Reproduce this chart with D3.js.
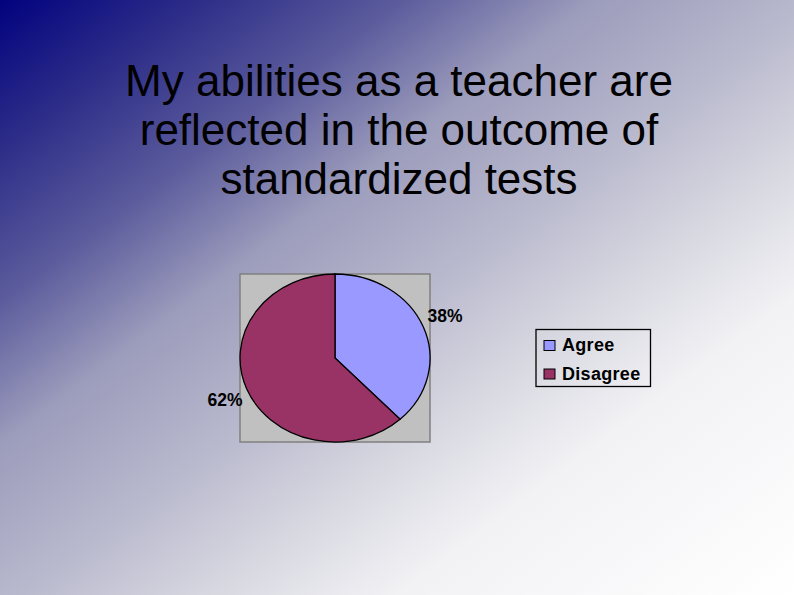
<!DOCTYPE html>
<html>
<head>
<meta charset="utf-8">
<script src="https://cdn.jsdelivr.net/npm/d3@7"></script>
<style>
  html, body { margin: 0; padding: 0; overflow: hidden; }
  svg { display: block; }
</style>
</head>
<body>
<script>
const categories = ["Agree", "Disagree"];
const values = [38, 62];
const labels = ["38%", "62%"];
const colors = ["#9999ff", "#993366"];
const titleLines = ["My abilities as a teacher are", "reflected in the outcome of", "standardized tests"];

const W = 794, H = 595;
const svg = d3.select("body").append("svg").attr("width", W).attr("height", H);

const defs = svg.append("defs");
const grad = defs.append("linearGradient").attr("id", "bg")
  .attr("x1", 0).attr("y1", 0).attr("x2", 1).attr("y2", 1);
[[0, "#02027f"], [0.12, "#2b2b88"], [0.25, "#5a5a9c"], [0.374, "#9c9cbc"],
 [0.5, "#b6b6cc"], [0.626, "#d6d6e0"], [0.75, "#f2f2f5"], [1, "#ffffff"]]
  .forEach(([o, c]) => grad.append("stop").attr("offset", o).attr("stop-color", c));
svg.append("rect").attr("width", W).attr("height", H).attr("fill", "url(#bg)");

// Title
svg.append("g").selectAll("text").data(titleLines).join("text")
  .attr("x", 399).attr("y", (d, i) => 96 + i * 49)
  .attr("text-anchor", "middle")
  .attr("font-family", "Liberation Sans, Arial, sans-serif")
  .attr("font-size", 44).attr("fill", "#000")
  .text(d => d);

// Plot area
const plot = {x: 240, y: 274, w: 190, h: 168};
svg.append("rect").attr("x", plot.x).attr("y", plot.y).attr("width", plot.w).attr("height", plot.h)
  .attr("fill", "#c0c0c0").attr("stroke", "#808080").attr("stroke-width", 1.5);

const cx = plot.x + plot.w / 2, cy = plot.y + plot.h / 2;
const rx = plot.w / 2, ry = plot.h / 2;

const pie = d3.pie().sort(null).value(d => d)(values);
const arc = d3.arc().innerRadius(0).outerRadius(1);
const labelArc = d3.arc().innerRadius(1).outerRadius(1);
const lkx = 1.245, lky = 1.36;

const g = svg.append("g").attr("transform", `translate(${cx},${cy}) scale(${rx},${ry})`);
g.selectAll("path").data(pie).join("path")
  .attr("d", arc)
  .attr("fill", (d, i) => colors[i])
  .attr("stroke", "#000").attr("stroke-width", 1.3)
  .attr("vector-effect", "non-scaling-stroke");

svg.append("g").selectAll("text").data(pie).join("text")
  .attr("x", d => cx + labelArc.centroid(d)[0] * rx * lkx)
  .attr("y", d => cy + labelArc.centroid(d)[1] * ry * lky)
  .attr("dy", "0.36em")
  .attr("text-anchor", "middle")
  .attr("font-family", "Liberation Sans, Arial, sans-serif")
  .attr("font-weight", "bold").attr("font-size", 17.5)
  .text((d, i) => labels[i]);

// Legend
const lg = svg.append("g").attr("transform", "translate(536,329.5)");
lg.append("rect").attr("width", 114.5).attr("height", 57).attr("fill", "none")
  .attr("stroke", "#000").attr("stroke-width", 1.3);
const items = lg.selectAll("g").data(categories).join("g")
  .attr("transform", (d, i) => `translate(8,${11 + i * 28.5})`);
items.append("rect").attr("width", 11).attr("height", 10)
  .attr("fill", (d, i) => colors[i]).attr("stroke", "#000").attr("stroke-width", 1);
items.append("text").attr("x", 18).attr("y", 10.5)
  .attr("font-family", "Liberation Sans, Arial, sans-serif")
  .attr("font-weight", "bold").attr("font-size", 18)
  .attr("letter-spacing", 0.3)
  .text(d => d);
</script>
</body>
</html>
